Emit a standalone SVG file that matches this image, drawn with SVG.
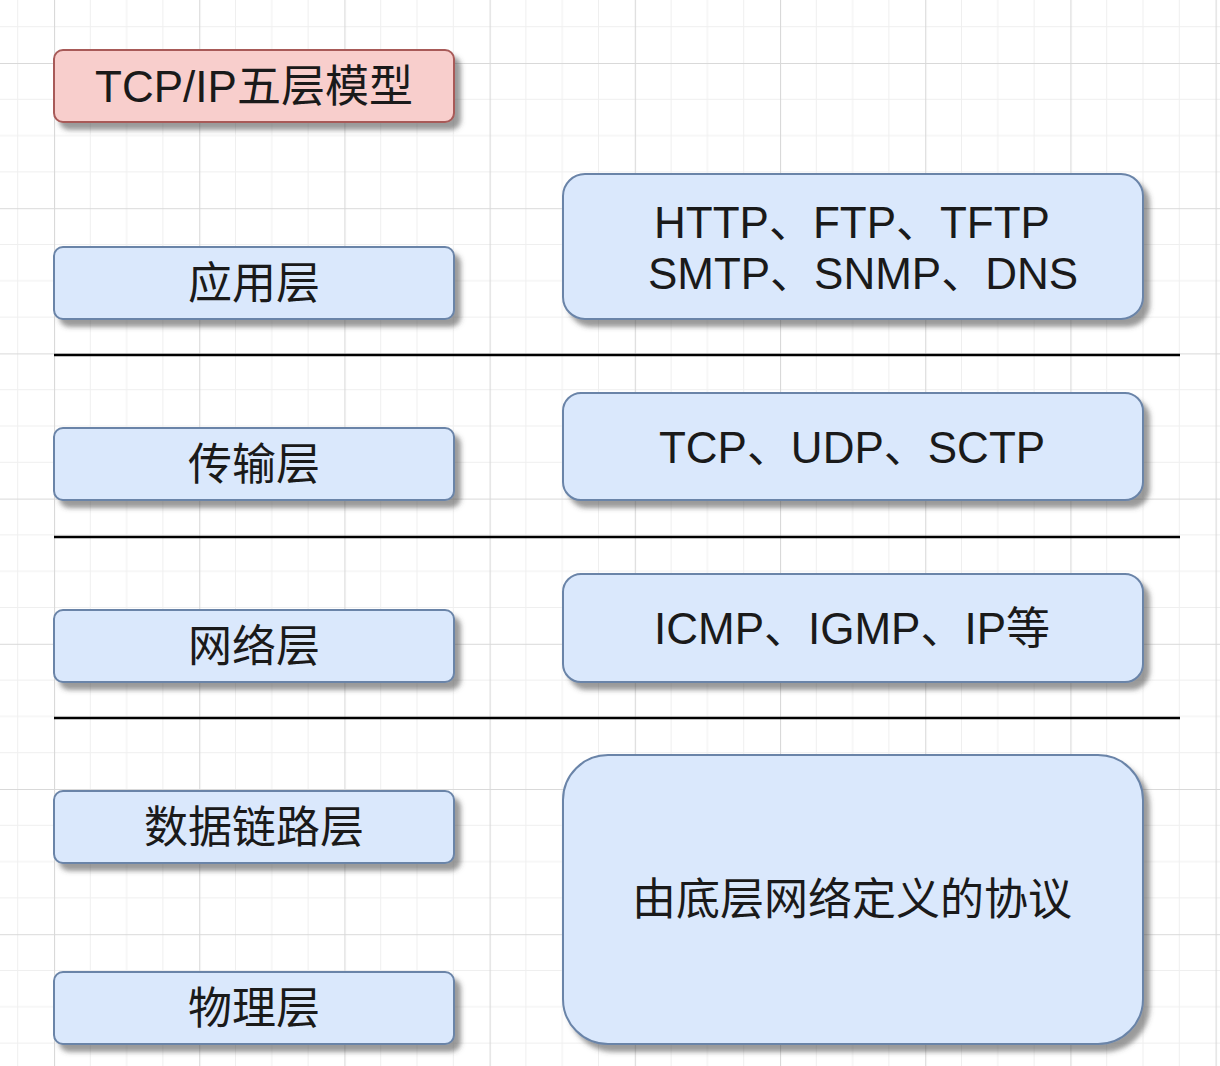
<svg xmlns="http://www.w3.org/2000/svg" width="1220" height="1066" viewBox="0 0 1220 1066">
<defs>
<pattern id="grid" patternUnits="userSpaceOnUse" x="54" y="63" width="145.2" height="145.2">
<path d="M36.3 0V145.2M72.6 0V145.2M108.9 0V145.2M0 36.3H145.2M0 72.6H145.2M0 108.9H145.2" stroke="#efefef" stroke-width="1" fill="none"/>
<path d="M0.5 0V145.2M0 0.5H145.2" stroke="#d9d9d9" stroke-width="1.2" fill="none"/>
</pattern>
<filter id="sh" x="-5%" y="-10%" width="115%" height="130%">
<feDropShadow dx="6" dy="7" stdDeviation="2.5" flood-color="#4a4a4a" flood-opacity="0.55"/>
</filter>
</defs>
<style>
.blue{fill:#dae8fc;stroke:#6a84a8;stroke-width:2;filter:url(#sh)}
.red{fill:#f8cecc;stroke:#a85a58;stroke-width:2;filter:url(#sh)}
.t{font-family:"Liberation Sans","Noto Sans CJK SC",sans-serif;font-size:44px;fill:#1a1a1a;text-anchor:middle;dominant-baseline:central}
.sep{stroke:#000;stroke-width:2.5}
</style>
<rect width="1220" height="1066" fill="#ffffff"/>
<rect width="1220" height="1066" fill="url(#grid)"/>
<g id="title">
<rect class="red" x="54" y="50" width="400" height="72" rx="9"/>
<text class="t" x="254" y="86">TCP/IP五层模型</text>
</g>
<g id="app-layer">
<rect class="blue" x="54" y="247" width="400" height="72" rx="9"/>
<text class="t" x="254" y="283">应用层</text>
</g>
<g id="transport-layer">
<rect class="blue" x="54" y="428" width="400" height="72" rx="9"/>
<text class="t" x="254" y="464">传输层</text>
</g>
<g id="network-layer">
<rect class="blue" x="54" y="610" width="400" height="72" rx="9"/>
<text class="t" x="254" y="646">网络层</text>
</g>
<g id="datalink-layer">
<rect class="blue" x="54" y="791" width="400" height="72" rx="9"/>
<text class="t" x="254" y="827">数据链路层</text>
</g>
<g id="physical-layer">
<rect class="blue" x="54" y="972" width="400" height="72" rx="9"/>
<text class="t" x="254" y="1008">物理层</text>
</g>
<g id="app-protocols">
<rect class="blue" x="563" y="174" width="580" height="145" rx="22"/>
<text class="t" x="852" y="222">HTTP、FTP、TFTP</text>
<text class="t" x="863" y="273">SMTP、SNMP、DNS</text>
</g>
<g id="transport-protocols">
<rect class="blue" x="563" y="393" width="580" height="107" rx="18"/>
<text class="t" x="852" y="447">TCP、UDP、SCTP</text>
</g>
<g id="network-protocols">
<rect class="blue" x="563" y="574" width="580" height="108" rx="18"/>
<text class="t" x="852" y="628">ICMP、IGMP、IP等</text>
</g>
<g id="lower-protocols">
<rect class="blue" x="563" y="755" width="580" height="289" rx="45"/>
<text class="t" x="852" y="899">由底层网络定义的协议</text>
</g>
<g id="connectors">
<line class="sep" x1="54" y1="355" x2="1180" y2="355"/>
<line class="sep" x1="54" y1="537" x2="1180" y2="537"/>
<line class="sep" x1="54" y1="718" x2="1180" y2="718"/>
</g>
</svg>
